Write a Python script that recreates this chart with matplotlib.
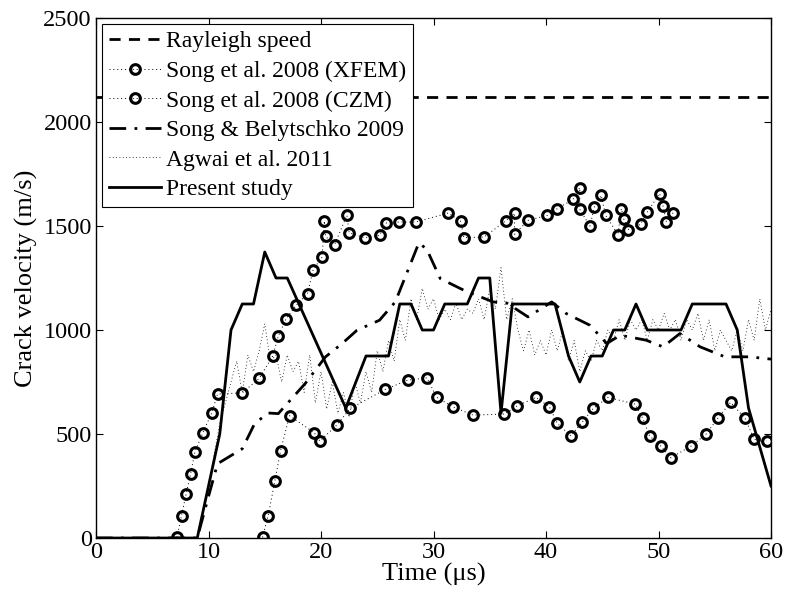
import matplotlib
matplotlib.use("Agg")
import matplotlib.pyplot as plt

plt.rcParams['font.family'] = ['Liberation Serif', 'DejaVu Serif']
plt.rcParams['mathtext.fontset'] = 'stix'

# Rayleigh speed
rayleigh_v = 2120
t_range = [0, 60]

# Song et al. 2008 (XFEM)
xfem_t = [7.2, 7.6, 8.0, 8.4, 8.8, 9.5, 10.3, 10.8, 13.0, 14.5, 15.7, 16.2, 16.9, 17.8, 18.8, 19.3,
          20.1, 20.3, 20.4, 21.2, 22.3, 22.5, 23.9, 25.2, 25.8, 26.9, 28.4, 31.3, 32.4, 32.7, 34.5,
          36.4, 37.2, 37.2, 38.4, 40.1, 41.0, 42.4, 43.0, 43.0, 43.9, 44.3, 44.9, 45.3, 46.4, 46.7,
          46.9, 47.3, 48.4, 49.0, 50.1, 50.4, 50.7, 51.3]
xfem_v = [3, 107, 210, 307, 415, 506, 603, 692, 698, 767, 874, 970, 1055, 1119, 1175, 1290,
          1351, 1524, 1450, 1410, 1551, 1467, 1444, 1455, 1514, 1519, 1519, 1562, 1524, 1444, 1447,
          1524, 1562, 1460, 1527, 1551, 1583, 1628, 1684, 1580, 1499, 1591, 1647, 1551, 1459, 1583,
          1535, 1483, 1508, 1567, 1656, 1596, 1519, 1564]

# Song et al. 2008 (CZM)
czm_t = [14.8, 15.3, 15.9, 16.4, 17.2, 19.4, 19.9, 21.4, 22.6, 25.7, 27.7, 29.4, 30.3, 31.7, 33.5,
         36.3, 37.4, 39.1, 40.3, 41.0, 42.2, 43.2, 44.2, 45.5, 47.9, 48.6, 49.2, 50.2, 51.1, 52.9,
         54.2, 55.3, 56.4, 57.7, 58.5, 59.6]
czm_v = [3, 107, 274, 419, 588, 506, 466, 543, 623, 714, 759, 770, 676, 631, 591,
         596, 634, 676, 631, 551, 491, 556, 623, 676, 644, 575, 491, 442, 386, 442,
         498, 578, 652, 575, 474, 467]

# Song & Belytschko 2009
sb_t = [0, 9.0, 10.0, 10.8, 13.0, 14.1, 15.3, 16.2, 18.6, 20.4, 21.9, 23.2, 25.2, 26.6, 28.7, 29.4,
        30.6, 32.7, 35.3, 36.5, 38.4, 40.5, 41.8, 43.9, 45.4, 46.6, 48.9, 50.4, 51.9, 53.7, 55.9,
        58.1, 60.0]
sb_v = [0, 0, 200, 357, 429, 550, 601, 598, 743, 871, 936, 999, 1047, 1135, 1419, 1388,
        1247, 1191, 1135, 1130, 1063, 1135, 1079, 1023, 935, 975, 951, 919, 983, 919, 871,
        871, 860]

# Agwai et al. 2011
agwai_t = [9, 10, 10.5, 11, 11.5, 12, 12.5, 13, 13.5, 14, 14.5, 15, 15.5, 16, 16.5, 17, 17.5, 18,
           18.5, 19, 19.5, 20, 20.5, 21, 21.5, 22, 22.5, 23, 23.5, 24, 24.5, 25, 25.5, 26, 26.5,
           27, 27.5, 28, 28.5, 29, 29.5, 30, 30.5, 31, 31.5, 32, 32.5, 33, 33.5, 34, 34.5, 35,
           35.5, 36, 36.5, 37, 37.5, 38, 38.5, 39, 39.5, 40, 40.5, 41, 41.5, 42, 42.5, 43, 43.5,
           44, 44.5, 45, 45.5, 46, 46.5, 47, 47.5, 48, 48.5, 49, 49.5, 50, 50.5, 51, 51.5, 52,
           52.5, 53, 53.5, 54, 54.5, 55, 55.5, 56, 56.5, 57, 57.5, 58, 58.5, 59, 59.5, 60]
agwai_v = [0, 250, 400, 550, 650, 750, 850, 700, 880, 800, 900, 1030, 850, 880, 750, 880, 800, 850,
           700, 880, 650, 800, 620, 750, 600, 700, 580, 750, 650, 800, 700, 900, 800, 950, 850,
           1050, 950, 1150, 1050, 1200, 1100, 1150, 1050, 1100, 1050, 1130, 1050, 1100, 1080, 1150,
           1050, 1200, 1100, 1300, 1050, 1150, 1000, 900, 1000, 880, 950, 880, 1000, 900, 1000,
           850, 950, 800, 900, 850, 950, 900, 1000, 950, 1050, 950, 1050, 1000, 1050, 950, 1050,
           1000, 1080, 1000, 1050, 950, 1050, 1000, 1080, 950, 1050, 900, 1000, 950, 900, 1000,
           900, 1050, 950, 1150, 1000, 1100]

# Present study
ps_t = [0, 9, 11, 12, 13, 14, 15, 16, 17, 22.2, 24, 26, 27, 28, 29, 30, 31, 33, 34, 35, 36, 37,
        40.8, 42, 43, 44, 45, 46, 47, 48, 49, 52, 53, 56, 57, 58, 60]
ps_v = [0, 0, 500, 1000, 1125, 1125, 1375, 1250, 1250, 625, 875, 875, 1125, 1125, 1000, 1000,
        1125, 1125, 1250, 1250, 600, 1125, 1125, 875, 750, 875, 875, 1000, 1000, 1125, 1000,
        1000, 1125, 1125, 1000, 625, 250]

x_ticks = [0, 10, 20, 30, 40, 50, 60]
y_ticks = [0, 500, 1000, 1500, 2000, 2500]

fig = plt.figure(figsize=(7.85, 5.99), dpi=100)
ax = fig.add_axes([0.1223, 0.1018, 0.8599, 0.8682])

ax.plot(t_range, [rayleigh_v, rayleigh_v], color='k', lw=2, ls=(0, (4, 3)),
        label='Rayleigh speed')
mk = dict(marker='o', mfc='none', mec='k', mew=2.2, ms=7)
ax.plot(xfem_t, xfem_v, color='k', lw=0.7, ls=(0, (1, 3)), label='Song et al. 2008 (XFEM)', **mk)
ax.plot(czm_t, czm_v, color='k', lw=0.7, ls=(0, (1, 3)), label='Song et al. 2008 (CZM)', **mk)
ax.plot(sb_t, sb_v, color='k', lw=2, ls=(0, (6, 3, 1, 3)), label='Song & Belytschko 2009')
ax.plot(agwai_t, agwai_v, color='k', lw=0.6, ls=(0, (1, 3)), label='Agwai et al. 2011')
ax.plot(ps_t, ps_v, color='k', lw=2, ls='-', label='Present study')

ax.set_xlim(0, 60)
ax.set_ylim(0, 2500)
ax.set_xticks(x_ticks)
ax.set_yticks(y_ticks)
ax.tick_params(direction='in', top=True, right=True, length=5, width=0.8, labelsize=17.5, pad=3)
for s in ax.spines.values():
    s.set_linewidth(1.0)
ax.set_xlabel('Time (μs)', fontsize=19, labelpad=0)
ax.set_ylabel('Crack velocity (m/s)', fontsize=19, labelpad=4)

leg = ax.legend(loc='upper left', fontsize=17, numpoints=1, handlelength=2.2,
                labelspacing=0.34, borderaxespad=0.25, borderpad=0.3, handletextpad=0.2,
                fancybox=False, edgecolor='k', framealpha=1)
leg.get_frame().set_linewidth(0.8)

fig.savefig('out.png', dpi=100)
